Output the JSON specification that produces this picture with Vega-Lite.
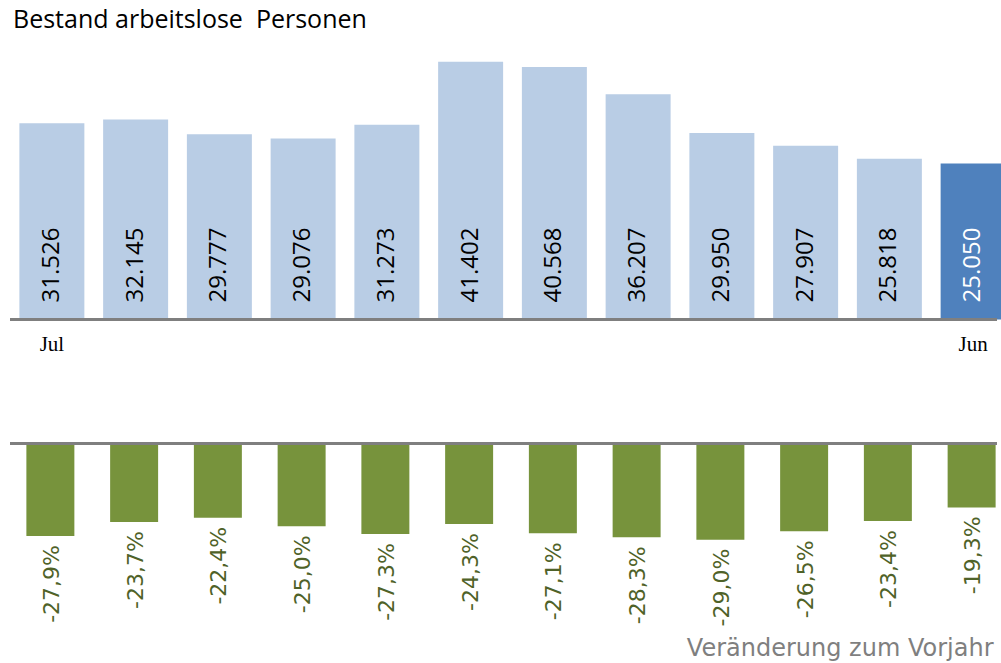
{
  "$schema": "https://vega.github.io/schema/vega-lite/v6.json",
  "width": 1001,
  "height": 663,
  "autosize": {"type": "fit", "contains": "padding"},
  "padding": {"left": 8, "top": 8, "right": 0, "bottom": 0},
  "background": "white",
  "config": {
    "view": {"stroke": null},
    "locale": {"number": {"decimal": ",", "thousands": ".", "grouping": [3], "currency": ["", " €"], "minus": "-", "percent": "%"}}
  },
  "title": {"text": "Bestand arbeitslose\u00a0 Personen", "anchor": "start", "frame": "group", "font": "Open Sans", "fontSize": 25, "fontWeight": "normal", "color": "#000000", "baseline": "top", "dx": 3, "dy": 7, "offset": 0},
  "data": {"values": [
    {"month": "Jul", "value": 31526, "change": -0.279},
    {"month": "Aug", "value": 32145, "change": -0.237},
    {"month": "Sep", "value": 29777, "change": -0.224},
    {"month": "Okt", "value": 29076, "change": -0.250},
    {"month": "Nov", "value": 31273, "change": -0.273},
    {"month": "Dez", "value": 41402, "change": -0.243},
    {"month": "Jan", "value": 40568, "change": -0.271},
    {"month": "Feb", "value": 36207, "change": -0.283},
    {"month": "Mär", "value": 29950, "change": -0.290},
    {"month": "Apr", "value": 27907, "change": -0.265},
    {"month": "Mai", "value": 25818, "change": -0.234},
    {"month": "Jun", "value": 25050, "change": -0.193}
  ]},
  "encoding": {
    "x": {
      "field": "month", "type": "nominal", "sort": null,
      "scale": {"paddingInner": 0, "paddingOuter": 0, "range": [0, 1005]},
      "axis": {"labels": false, "ticks": false, "domain": false, "grid": false,
        "title": "Veränderung zum Vorjahr", "titleFont": "DejaVu Sans", "titleFontSize": 24, "titleFontWeight": "normal",
        "titleColor": "#7F7F7F", "titleAlign": "right", "titleX": 983, "titleY": -8, "titleBaseline": "alphabetic"}
    }
  },
  "layer": [
    {
      "encoding": {
        "y": {"field": "value", "type": "quantitative", "scale": {"domain": [-55240, 47163], "nice": false, "zero": false}, "axis": null}
      },
      "layer": [
        {
          "mark": {"type": "bar", "width": {"band": 0.776}},
          "encoding": {
            "color": {"condition": {"test": "datum.month === 'Jun'", "value": "#4F81BD"}, "value": "#B9CDE5"}
          }
        },
        {
          "mark": {"type": "rule", "color": "#7F7F7F", "strokeWidth": 3},
          "encoding": {"x": null, "y": {"datum": 0, "type": "quantitative"}}
        },
        {
          "mark": {"type": "text", "angle": 270, "align": "left", "baseline": "middle", "dx": 17, "font": "Open Sans", "fontSize": 24},
          "encoding": {
            "y": {"datum": 0, "type": "quantitative"},
            "text": {"field": "value", "type": "quantitative", "format": ",d"},
            "color": {"condition": {"test": "datum.month === 'Jun'", "value": "#FFFFFF"}, "value": "#000000"}
          }
        },
        {
          "transform": [{"filter": "datum.month === 'Jul' || datum.month === 'Jun'"}],
          "mark": {"type": "text", "align": "center", "baseline": "alphabetic", "dy": 32, "font": "Liberation Serif", "fontSize": 21, "color": "#000000"},
          "encoding": {
            "y": {"datum": 0, "type": "quantitative"},
            "text": {"field": "month", "type": "nominal"}
          }
        }
      ]
    },
    {
      "encoding": {
        "y": {"field": "change", "type": "quantitative", "scale": {"domain": [-0.6616, 1.2574], "nice": false, "zero": false}, "axis": null}
      },
      "layer": [
        {
          "mark": {"type": "bar", "width": {"band": 0.573}, "xOffset": -1.5, "color": "#77933C"}
        },
        {
          "mark": {"type": "rule", "color": "#7F7F7F", "strokeWidth": 3},
          "encoding": {"x": null, "y": {"datum": 0, "type": "quantitative"}}
        },
        {
          "mark": {"type": "text", "angle": 270, "align": "right", "baseline": "middle", "dx": -9, "font": "DejaVu Sans", "fontSize": 22, "color": "#4F6228"},
          "encoding": {
            "text": {"field": "change", "type": "quantitative", "format": ".1%"}
          }
        }
      ]
    }
  ],
  "resolve": {"scale": {"y": "independent"}, "axis": {"y": "independent"}}
}
